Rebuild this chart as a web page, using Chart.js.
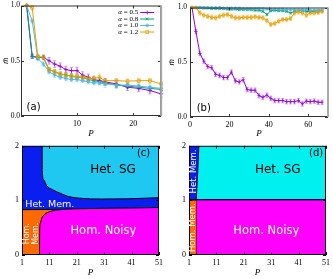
<!DOCTYPE html>
<html>
<head>
<meta charset="utf-8">
<script src="https://cdn.jsdelivr.net/npm/chart.js@4.4.0/dist/chart.umd.min.js"></script>
<style>
body { margin: 0; background: #fff; }
#wrap { position: relative; width: 333px; height: 279px; overflow: hidden; }
canvas { position: absolute; }
</style>
</head>
<body>
<div id="wrap">
  <canvas id="chartA" width="166" height="140" style="left:0;top:0;width:166px;height:140px"></canvas>
  <canvas id="chartB" width="167" height="140" style="left:166px;top:0;width:167px;height:140px"></canvas>
  <canvas id="chartC" width="166" height="141" style="left:0;top:138px;width:166px;height:141px"></canvas>
  <canvas id="chartD" width="167" height="141" style="left:166px;top:138px;width:167px;height:141px"></canvas>
</div>
<script>
// ---- data: panel (a) ----
const alphaLabels = ['α = 0.5', 'α = 0.8', 'α = 1.0', 'α = 1.2'];
const pA = [1, 2, 3, 4, 5, 6, 7, 8, 9, 10, 11, 12, 13, 14, 15, 17, 19, 21, 23, 25];
const mA05 = [1.0, 0.54, 0.53, 0.53, 0.50, 0.47, 0.45, 0.42, 0.41, 0.41, 0.37, 0.35, 0.33, 0.32, 0.31, 0.29, 0.26, 0.25, 0.23, 0.20];
const mA08 = [1.0, 0.54, 0.53, 0.53, 0.42, 0.40, 0.38, 0.37, 0.36, 0.35, 0.35, 0.33, 0.32, 0.31, 0.30, 0.28, 0.27, 0.26, 0.25, 0.24];
const mA10 = [1.0, 0.86, 0.52, 0.47, 0.40, 0.37, 0.35, 0.34, 0.33, 0.33, 0.32, 0.31, 0.30, 0.30, 0.29, 0.28, 0.28, 0.27, 0.26, 0.25];
const mA12 = [1.0, 0.98, 0.54, 0.53, 0.42, 0.40, 0.38, 0.37, 0.36, 0.36, 0.35, 0.34, 0.34, 0.35, 0.32, 0.32, 0.315, 0.32, 0.32, 0.29];
const eA05 = [0, 0.02, 0.02, 0.02, 0.03, 0.03, 0.03, 0.03, 0.03, 0.03, 0.03, 0.03, 0.03, 0.03, 0.03, 0.03, 0.03, 0.03, 0.03, 0.03];
const eA08 = [0, 0.02, 0.02, 0.02, 0.02, 0.02, 0.02, 0.02, 0.02, 0.02, 0.02, 0.02, 0.02, 0.02, 0.02, 0.02, 0.02, 0.02, 0.02, 0.02];
const eA10 = [0, 0.02, 0.02, 0.02, 0.02, 0.02, 0.02, 0.02, 0.02, 0.02, 0.02, 0.02, 0.02, 0.02, 0.03, 0.03, 0.03, 0.03, 0.03, 0.03];
const eA12 = [0, 0.02, 0.02, 0.02, 0.02, 0.02, 0.02, 0.02, 0.02, 0.02, 0.02, 0.02, 0.02, 0.03, 0.02, 0.02, 0.02, 0.02, 0.02, 0.02];
const ticksAx = [10, 20];

// ---- data: panel (b) ----
const pB = [1, 3, 5, 7, 9, 11, 13, 15, 17, 19, 21, 23, 25, 27, 29, 31, 33, 35, 37, 39, 41, 43, 45, 47, 49, 51, 53, 55, 57, 59, 61, 63, 65, 67];
const mB05 = [1.0, 0.78, 0.58, 0.51, 0.46, 0.45, 0.39, 0.38, 0.36, 0.36, 0.41, 0.33, 0.32, 0.34, 0.25, 0.245, 0.245, 0.195, 0.18, 0.20, 0.17, 0.15, 0.15, 0.15, 0.14, 0.14, 0.14, 0.15, 0.12, 0.145, 0.14, 0.145, 0.135, 0.135];
const mB08 = [1.0, 1.0, 1.0, 0.995, 0.995, 0.99, 0.99, 0.99, 0.99, 0.985, 0.985, 0.985, 0.98, 0.98, 0.98, 0.98, 0.975, 0.975, 0.965, 0.935, 0.97, 0.975, 0.97, 0.97, 0.965, 0.95, 0.965, 0.97, 0.97, 0.965, 0.96, 0.965, 0.97, 0.97];
const mB10 = [1.0, 1.0, 1.0, 1.0, 1.0, 1.0, 1.0, 1.0, 0.995, 0.995, 0.995, 0.995, 0.995, 0.99, 0.99, 0.99, 0.99, 0.99, 0.99, 0.985, 0.985, 0.985, 0.985, 0.985, 0.98, 0.98, 0.98, 0.98, 0.98, 0.98, 0.975, 0.975, 0.975, 0.975];
const mB12 = [1.0, 1.0, 0.95, 0.93, 0.92, 0.91, 0.905, 0.92, 0.93, 0.935, 0.92, 0.905, 0.905, 0.91, 0.91, 0.91, 0.915, 0.91, 0.905, 0.88, 0.845, 0.855, 0.875, 0.89, 0.89, 0.90, 0.95, 0.96, 0.95, 0.93, 0.95, 0.95, 0.955, 0.965];
const eB05 = [0, 0.02, 0.02, 0.02, 0.02, 0.02, 0.02, 0.02, 0.02, 0.02, 0.02, 0.02, 0.02, 0.02, 0.02, 0.02, 0.02, 0.02, 0.02, 0.02, 0.02, 0.02, 0.02, 0.02, 0.02, 0.02, 0.02, 0.02, 0.02, 0.02, 0.02, 0.02, 0.02, 0.02];
const eB08 = pB.map(() => 0.01);
const eB10 = pB.map(() => 0.006);
const eB12 = [0, 0.01, 0.02, 0.02, 0.02, 0.02, 0.02, 0.02, 0.02, 0.02, 0.02, 0.02, 0.02, 0.02, 0.02, 0.02, 0.02, 0.02, 0.02, 0.02, 0.02, 0.02, 0.02, 0.02, 0.02, 0.02, 0.02, 0.02, 0.02, 0.02, 0.02, 0.02, 0.02, 0.02];
const ticksBx = [0, 20, 40, 60];
const ticksM = [0, 0.5, 1.0];

// ---- data: phase diagrams (boundary points, [P, alpha]) ----
const ticksP = [1, 11, 21, 31, 41, 51];
const ticksAlpha = [0, 1, 2];
const cHetMem = [[1, 2], [51, 2]];
const cHetSG = [[8.35, 2], [8.4, 1.55], [8.9, 1.38], [10, 1.27], [12, 1.2], [15, 1.13], [18, 1.07], [22, 1.04], [30, 1.025], [40, 1.03], [51, 1.05]];
const cHomMem = [[1, 0.83], [12, 0.835], [51, 0.85]];
const cHomNoisy = [[7.4, 0], [7.45, 0.45], [7.7, 0.58], [8.2, 0.67], [9.2, 0.74], [11.5, 0.8], [15, 0.83], [25, 0.85], [40, 0.86], [51, 0.87]];
const dHetSG = [[1, 1.01], [51, 1.01]];
const dHomNoisy = [[3.55, 0], [3.56, 1.01], [51, 1.01]];
const dHomMem = [[1, 1.01], [3.55, 1.01]];
const dHetMem = [[1, 1.01], [3.6, 1.01], [3.9, 1.25], [4.3, 1.65], [4.6, 2]];

// ---- styles ----
const colors = ['#9400d3', '#009e73', '#56b4e9', '#e69f00'];
const errColors = ['rgba(148,0,211,0.5)', 'rgba(0,158,115,0.5)', 'rgba(86,180,233,0.5)', 'rgba(230,159,0,0.5)'];
const markers = ['cross', 'crossRot', 'star', 'rect'];
const SERIF = '"Liberation Serif", "DejaVu Serif", serif';
const SANS = '"DejaVu Sans", sans-serif';

// Error bars drawn through the scales
const errorBars = {
  id: 'errorBars',
  beforeDatasetsDraw(chart) {
    const ctx = chart.ctx, xs = chart.scales.x, ys = chart.scales.y;
    chart.data.datasets.forEach(ds => {
      if (!ds.errors) return;
      ctx.save();
      ctx.strokeStyle = ds.errorColor;
      ctx.lineWidth = 0.8;
      ds.data.forEach((p, i) => {
        const e = ds.errors[i];
        if (!e) return;
        const x = xs.getPixelForValue(p.x);
        const y1 = ys.getPixelForValue(p.y - e), y2 = ys.getPixelForValue(p.y + e);
        ctx.beginPath();
        ctx.moveTo(x, y1); ctx.lineTo(x, y2);
        ctx.moveTo(x - 1.5, y1); ctx.lineTo(x + 1.5, y1);
        ctx.moveTo(x - 1.5, y2); ctx.lineTo(x + 1.5, y2);
        ctx.stroke();
      });
      ctx.restore();
    });
  }
};

// Frame with inward mirrored ticks
const frame = {
  id: 'frame',
  afterDraw(chart, args, opts) {
    const ctx = chart.ctx, a = chart.chartArea;
    ctx.save();
    ctx.strokeStyle = opts.color || '#000';
    ctx.lineWidth = 1;
    ctx.strokeRect(a.left + 0.5, a.top + 0.5, a.width - 1, a.height - 1);
    ctx.beginPath();
    chart.scales.x.ticks.forEach(t => {
      const x = Math.round(chart.scales.x.getPixelForValue(t.value)) + 0.5;
      ctx.moveTo(x, a.bottom); ctx.lineTo(x, a.bottom - 3);
      ctx.moveTo(x, a.top); ctx.lineTo(x, a.top + 3);
    });
    chart.scales.y.ticks.forEach(t => {
      const y = Math.round(chart.scales.y.getPixelForValue(t.value)) + 0.5;
      ctx.moveTo(a.left, y); ctx.lineTo(a.left + 3, y);
      ctx.moveTo(a.right, y); ctx.lineTo(a.right - 3, y);
    });
    ctx.stroke();
    if (opts.rightEdge) {
      ctx.strokeStyle = opts.rightEdge;
      ctx.lineWidth = 2;
      ctx.beginPath();
      ctx.moveTo(a.right, a.top); ctx.lineTo(a.right, a.bottom);
      ctx.stroke();
    }
    ctx.restore();
  }
};

// Text annotations placed in data coordinates
function notes(items) {
  return {
    id: 'notes',
    afterDraw(chart) {
      const ctx = chart.ctx, xs = chart.scales.x, ys = chart.scales.y;
      items.forEach(n => {
        ctx.save();
        ctx.font = n.font;
        ctx.fillStyle = n.color || '#000';
        ctx.textAlign = n.align || 'center';
        ctx.textBaseline = 'middle';
        ctx.translate(xs.getPixelForValue(n.x), ys.getPixelForValue(n.y));
        if (n.rotate) ctx.rotate(n.rotate);
        ctx.fillText(n.text, 0, 0);
        ctx.restore();
      });
    }
  };
}

// Key in the top-right corner, text left of the sample
const seriesKey = {
  id: 'seriesKey',
  afterDraw(chart) {
    const ctx = chart.ctx, a = chart.chartArea;
    const x1 = a.right - 7, x0 = x1 - 14;
    chart.data.datasets.forEach((ds, i) => {
      const y = a.top + 7 + i * 6.5;
      ctx.save();
      ctx.fillStyle = '#000';
      ctx.textBaseline = 'middle';
      ctx.textAlign = 'right';
      ctx.font = '7px ' + SERIF;
      const rest = ds.label.slice(1);
      ctx.fillText(rest, x0 - 2, y);
      const w = ctx.measureText(rest).width;
      ctx.font = 'italic 7px ' + SERIF;
      ctx.fillText(ds.label[0], x0 - 2 - w, y);
      ctx.strokeStyle = ds.borderColor;
      ctx.lineWidth = 1;
      ctx.beginPath(); ctx.moveTo(x0, y); ctx.lineTo(x1, y); ctx.stroke();
      ctx.fillStyle = ds.pointStyle === 'rect' ? 'rgba(0,0,0,0)' : ds.borderColor;
      ctx.lineWidth = 0.8;
      Chart.helpers.drawPoint(ctx, { pointStyle: ds.pointStyle, radius: 2, rotation: 0, borderWidth: 0.8 }, (x0 + x1) / 2, y);
      ctx.restore();
    });
  }
};

function seriesSets(P, values, errors, radius) {
  return values.map((m, k) => ({
    label: alphaLabels[k],
    data: P.map((x, i) => ({ x: x, y: m[i] })),
    errors: errors[k],
    errorColor: errColors[k],
    borderColor: colors[k],
    backgroundColor: colors[k],
    borderWidth: 1,
    pointStyle: markers[k],
    pointRadius: radius,
    pointBorderWidth: 0.8,
    pointBackgroundColor: markers[k] === 'rect' ? 'rgba(0,0,0,0)' : colors[k],
    order: 3 - k,
    clip: 4
  }));
}

function fixedTicks(list) {
  return s => { s.ticks = list.map(v => ({ value: v })); };
}

function axes(o) {
  return {
    x: {
      type: 'linear', min: o.xmin, max: o.xmax,
      afterBuildTicks: fixedTicks(o.xticks),
      afterFit: s => { s.height = o.xh; },
      grid: { display: false, drawTicks: false },
      border: { display: false },
      ticks: { font: { family: SERIF, size: 8 }, color: '#000', padding: 3, maxRotation: 0, callback: v => String(v) },
      title: { display: true, text: 'P', font: { family: SERIF, size: 9, style: 'italic' }, color: '#000', padding: { top: 0, bottom: 1 } }
    },
    y: {
      type: 'linear', min: o.ymin, max: o.ymax,
      afterBuildTicks: fixedTicks(o.yticks),
      afterFit: s => { s.width = o.yw; },
      grid: { display: false, drawTicks: false },
      border: { display: false },
      ticks: { font: { family: SERIF, size: o.yfs || 8 }, color: '#000', padding: o.ypad || 3, callback: o.yfmt },
      title: { display: !!o.ytitle, text: o.ytitle || '', font: { family: SERIF, size: 9, style: 'italic' }, color: '#000', padding: { top: 0, bottom: 0 } }
    }
  };
}

function baseOptions(pad, scales, frameOpts) {
  return {
    responsive: false,
    animation: false,
    events: [],
    devicePixelRatio: 1,
    layout: { padding: pad },
    plugins: { legend: { display: false }, tooltip: { enabled: false }, frame: frameOpts },
    scales: scales
  };
}

// Panel (a)
new Chart(document.getElementById('chartA'), {
  type: 'line',
  data: { datasets: seriesSets(pA, [mA05, mA08, mA10, mA12], [eA05, eA08, eA10, eA12], 2) },
  options: baseOptions({ top: 4, right: 4, left: 0, bottom: 0 },
    axes({ xmin: 0, xmax: 25, xticks: ticksAx, xh: 24, ymin: 0, ymax: 1, yticks: ticksM, yw: 21, yfmt: v => v.toFixed(1), ytitle: 'm\u0304', yfs: 7.5, ypad: 1 }),
    { color: '#333', rightEdge: '#aaa' }),
  plugins: [errorBars, frame, seriesKey, notes([
    { text: '(a)', x: 1.0, y: 0.08, align: 'left', font: '10px ' + SANS }
  ])]
});

// Panel (b)
new Chart(document.getElementById('chartB'), {
  type: 'line',
  data: { datasets: seriesSets(pB, [mB05, mB08, mB10, mB12], [eB05, eB08, eB10, eB12], 1.6) },
  options: baseOptions({ top: 4, right: 5, left: 0, bottom: 0 },
    axes({ xmin: 0, xmax: 70, xticks: ticksBx, xh: 23, ymin: 0, ymax: 1, yticks: ticksM, yw: 24, yfmt: v => v.toFixed(1), ytitle: 'm\u0304', yfs: 7.5, ypad: 3 }),
    { color: '#333', rightEdge: '#aaa' }),
  plugins: [errorBars, frame, notes([
    { text: '(b)', x: 3.4, y: 0.08, align: 'left', font: '10px ' + SANS }
  ])]
});

function region(points, color, fill, order, border) {
  return {
    data: points.map(p => ({ x: p[0], y: p[1] })),
    backgroundColor: color,
    borderColor: '#000',
    borderWidth: border === undefined ? 1 : border,
    fill: fill,
    pointRadius: 0,
    cubicInterpolationMode: 'monotone',
    order: order
  };
}

const phaseAxes = yw => axes({ xmin: 1, xmax: 51, xticks: ticksP, xh: 24, ymin: 0, ymax: 2, yticks: ticksAlpha, yw: yw, yfmt: v => String(v) });

// Panel (c)
new Chart(document.getElementById('chartC'), {
  type: 'line',
  data: { datasets: [
    region(cHetMem, '#0a1ef0', 'start', 4, 0),
    region(cHetSG, '#1ec8f0', 'end', 3),
    region(cHomMem, '#ff6a00', 'start', 2),
    region(cHomNoisy, '#ff00ff', 'start', 1)
  ] },
  options: baseOptions({ top: 4, right: 4, left: 0, bottom: 0 }, phaseAxes(22), { color: '#000' }),
  plugins: [frame, notes([
    { text: 'Het. SG', x: 34.2, y: 1.55, font: '12px ' + SANS },
    { text: 'Het. Mem.', x: 2.2, y: 0.93, align: 'left', font: '9.5px ' + SANS, color: '#fff' },
    { text: 'Hom. Noisy', x: 30.7, y: 0.44, font: '11.5px ' + SANS, color: '#fff' },
    { text: 'Hom.', x: 2.8, y: 0.39, rotate: -Math.PI / 2, font: '8px ' + SANS, color: '#fff' },
    { text: 'Mem.', x: 6.0, y: 0.39, rotate: -Math.PI / 2, font: '8px ' + SANS, color: '#fff' },
    { text: '(c)', x: 47.8, y: 1.86, align: 'right', font: '10px ' + SANS }
  ])]
});

// Panel (d)
new Chart(document.getElementById('chartD'), {
  type: 'line',
  data: { datasets: [
    region(dHetSG, '#00f0f0', 'end', 4),
    region(dHomNoisy, '#ff00ff', 'start', 3),
    region(dHomMem, '#ff6a00', 'start', 2),
    region(dHetMem, '#0a1ef0', 'end', 1)
  ] },
  options: baseOptions({ top: 4, right: 4, left: 0, bottom: 0 }, phaseAxes(23), { color: '#000' }),
  plugins: [frame, notes([
    { text: 'Het. SG', x: 33.4, y: 1.55, font: '12px ' + SANS },
    { text: 'Hom. Noisy', x: 29.2, y: 0.44, font: '11.5px ' + SANS, color: '#fff' },
    { text: 'Het. Mem.', x: 2.6, y: 1.53, rotate: -Math.PI / 2, font: '8.5px ' + SANS, color: '#fff' },
    { text: 'Hom. Mem.', x: 2.3, y: 0.5, rotate: -Math.PI / 2, font: '8.5px ' + SANS, color: '#fff' },
    { text: '(d)', x: 50, y: 1.86, align: 'right', font: '10px ' + SANS }
  ])]
});
</script>
</body>
</html>
